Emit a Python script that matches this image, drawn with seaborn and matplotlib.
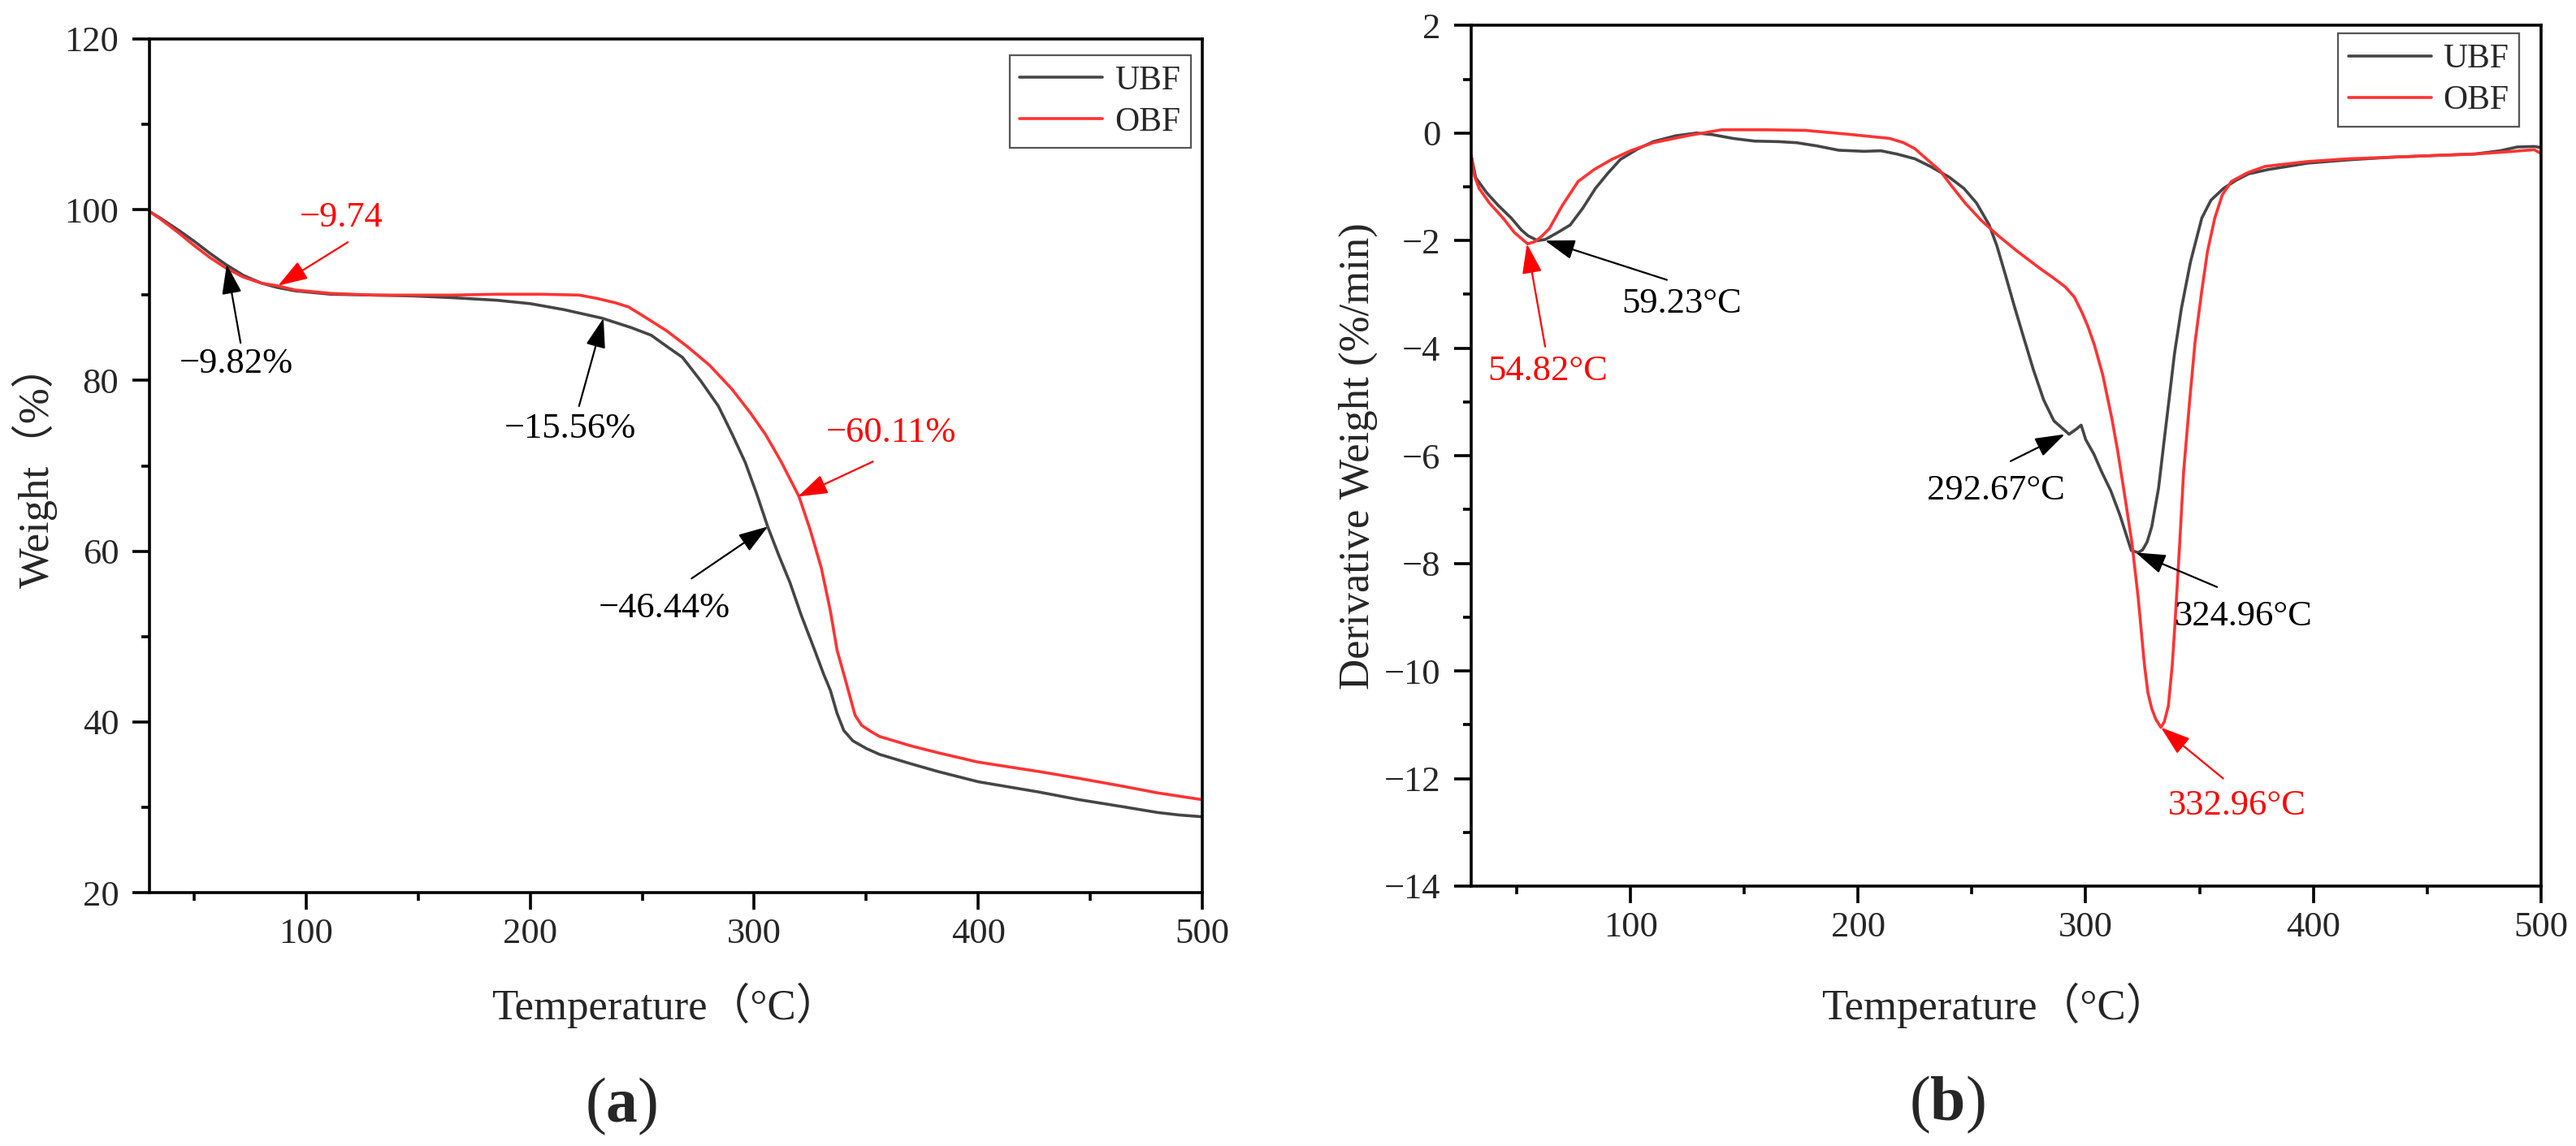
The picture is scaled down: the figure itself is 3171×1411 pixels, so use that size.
import matplotlib
matplotlib.use("Agg")
import matplotlib.pyplot as plt
from matplotlib.ticker import MultipleLocator
import pandas as pd
import seaborn as sns

# ---- TG curves (temperature in degC, weight in %) ----
tg_ubf_t = [30, 35, 43, 50, 57, 64, 72, 80, 87, 95, 111, 130, 148, 165, 185, 200,
            215, 232, 245, 254, 262, 268, 276, 284, 290, 296, 301, 306, 311, 316,
            321, 327, 331, 334, 337, 340, 344, 350, 356, 370, 382, 400, 427, 445,
            464, 480, 490, 500]
tg_ubf_w = [99.8, 99.0, 97.6, 96.3, 94.9, 93.6, 92.3, 91.4, 90.9, 90.5, 90.1, 90.0,
            89.9, 89.7, 89.4, 89.0, 88.3, 87.3, 86.2, 85.3, 83.8, 82.7, 80.0, 77.0,
            73.8, 70.4, 66.8, 62.9, 59.5, 56.3, 52.5, 48.4, 45.6, 43.7, 41.0, 39.0,
            37.8, 36.9, 36.2, 35.1, 34.2, 33.0, 31.8, 30.9, 30.1, 29.4, 29.1, 28.9]

tg_obf_t = [30, 35, 43, 50, 57, 64, 72, 80, 87, 95, 111, 130, 148, 165, 185, 205,
            222, 230, 238, 244, 252, 261, 270, 280, 290, 298, 305, 312, 320, 325,
            330, 334, 337, 340, 342, 345, 348, 352, 356, 370, 382, 400, 427, 445,
            464, 480, 490, 500]
tg_obf_w = [99.8, 98.9, 97.3, 95.8, 94.4, 93.2, 92.1, 91.4, 91.1, 90.6, 90.2, 90.0,
            90.0, 90.0, 90.1, 90.1, 90.0, 89.6, 89.1, 88.6, 87.3, 85.8, 84.0, 81.8,
            79.0, 76.3, 73.7, 70.5, 66.4, 62.5, 58.0, 53.0, 48.4, 45.6, 43.7, 40.8,
            39.6, 38.9, 38.3, 37.2, 36.4, 35.3, 34.2, 33.4, 32.5, 31.7, 31.3, 30.9]

# ---- DTG curves (temperature in degC, derivative weight in %/min) ----
dtg_ubf_t = [30, 32, 36.6, 42, 47.6, 52, 55, 59.2, 62.5, 68, 73.5, 79, 84.6, 90,
             95.6, 103, 110, 120, 129, 136, 145, 154.5, 165, 173, 182, 191.5, 202.6,
             210, 217, 225, 231.7, 240, 246.5, 252, 257.6, 261, 264.8, 268.5, 272.3,
             277, 281.5, 286, 292.7, 296, 298, 300, 303.6, 307, 311, 315, 320, 323,
             325, 327, 329, 332, 334.5, 336.6, 339, 342, 346, 351, 355, 360.5, 366,
             371.5, 380, 397.5, 415, 434, 452, 471, 482, 489.5, 497, 500]
dtg_ubf_d = [-0.42, -0.83, -1.1, -1.35, -1.58, -1.8, -1.91, -2.0, -1.98, -1.85,
             -1.71, -1.4, -1.03, -0.75, -0.49, -0.3, -0.16, -0.05, 0.0, -0.03, -0.1,
             -0.15, -0.16, -0.18, -0.24, -0.32, -0.34, -0.33, -0.39, -0.48, -0.62,
             -0.82, -1.03, -1.3, -1.71, -2.1, -2.65, -3.2, -3.74, -4.4, -4.96, -5.35,
             -5.6, -5.5, -5.43, -5.7, -5.97, -6.3, -6.65, -7.1, -7.76, -7.8, -7.75,
             -7.6, -7.32, -6.6, -5.7, -4.96, -4.1, -3.27, -2.4, -1.58, -1.25, -1.03,
             -0.88, -0.76, -0.68, -0.56, -0.5, -0.45, -0.42, -0.39, -0.33, -0.26,
             -0.25, -0.27]

dtg_obf_t = [30, 31.5, 33.5, 38, 44, 49, 54.8, 58, 61, 64.3, 70, 77, 84, 91.8, 100,
             110, 125, 140, 160, 176.6, 195, 213.8, 220, 224.9, 230, 236, 241, 247,
             254, 261.6, 270, 280, 286, 291, 295, 298.3, 301, 303.8, 307.5, 311.4,
             314, 316.8, 320.3, 323, 325.8, 327.3, 329, 330.8, 333, 334.5, 336.3,
             338, 339.2, 341.3, 343, 345.7, 348, 351, 353.5, 356.7, 360, 364, 371,
             378.8, 397.5, 415, 434, 452, 471, 485, 497, 500]
dtg_obf_d = [-0.42, -0.8, -1.03, -1.3, -1.58, -1.85, -2.06, -2.02, -1.92, -1.78,
             -1.35, -0.9, -0.68, -0.49, -0.33, -0.18, -0.05, 0.06, 0.06, 0.05, -0.02,
             -0.1, -0.18, -0.29, -0.48, -0.7, -0.98, -1.3, -1.62, -1.91, -2.2, -2.52,
             -2.7, -2.86, -3.05, -3.33, -3.6, -3.94, -4.5, -5.29, -5.9, -6.65, -7.62,
             -8.62, -9.89, -10.4, -10.7, -10.9, -11.05, -10.95, -10.65, -9.9, -9.13,
             -7.62, -6.3, -4.96, -3.9, -2.93, -2.2, -1.58, -1.15, -0.9, -0.74, -0.62,
             -0.53, -0.48, -0.45, -0.42, -0.39, -0.35, -0.31, -0.38]

samples = ["UBF", "OBF"]
colors = {"UBF": "#454545", "OBF": "#ff3333"}

# annotations: (text, text position, arrow tail, arrow tip, colour)
tg_notes = [
    ("\u22129.82%", (68.9, 81.9), (70.7, 84.4), (64.5, 93.6), "black"),
    ("\u22129.74", (115.7, 99.1), (118.6, 96.2), (87.4, 91.1), "red"),
    ("\u221215.56%", (217.8, 74.3), (221.8, 77.0), (232.7, 87.3), "black"),
    ("\u221260.11%", (361.0, 73.9), (353.0, 70.5), (319.5, 66.4), "red"),
    ("\u221246.44%", (260.0, 53.3), (272.0, 56.8), (306.2, 62.9), "black"),
]
dtg_notes = [
    ("59.23\u00b0C", (122.6, -3.17), (116.0, -2.73), (62.5, -2.0), "black"),
    ("54.82\u00b0C", (63.6, -4.42), (62.5, -3.97), (54.5, -2.06), "red"),
    ("292.67\u00b0C", (260.4, -6.64), (267.0, -6.1), (290.8, -5.6), "black"),
    ("324.96\u00b0C", (369.4, -8.98), (357.7, -8.44), (322.0, -7.8), "black"),
    ("332.96\u00b0C", (366.5, -12.5), (360.4, -12.0), (333.0, -11.05), "red"),
]


def long_df(t_ubf, v_ubf, t_obf, v_obf):
    a = pd.DataFrame({"T": t_ubf, "v": v_ubf, "sample": "UBF"})
    b = pd.DataFrame({"T": t_obf, "v": v_obf, "sample": "OBF"})
    return pd.concat([a, b], ignore_index=True)


def style_axes(ax, ylim, ymajor, yminor):
    ax.set_xlim(30, 500)
    ax.set_ylim(*ylim)
    ax.xaxis.set_major_locator(MultipleLocator(100))
    ax.xaxis.set_minor_locator(MultipleLocator(50))
    ax.yaxis.set_major_locator(MultipleLocator(ymajor))
    ax.yaxis.set_minor_locator(MultipleLocator(yminor))
    for s in ax.spines.values():
        s.set_visible(True)
        s.set_linewidth(1.3)
        s.set_color("black")
    ax.tick_params(which="both", direction="out", top=False, right=False,
                   width=1.3, color="black", labelsize=16)
    ax.tick_params(which="major", length=7.5)
    ax.tick_params(which="minor", length=3.6)
    ax.tick_params(axis="x", pad=3.5)
    ax.tick_params(axis="y", pad=6)
    ax.grid(False)


def add_notes(ax, notes):
    for txt, pos, tail, tip, c in notes:
        ax.annotate("", xy=tip, xytext=tail,
                    arrowprops=dict(arrowstyle="-|>,head_length=0.45,head_width=0.15",
                                    color=c, lw=0.8, mutation_scale=25,
                                    shrinkA=0, shrinkB=0))
        ax.text(pos[0], pos[1], txt, color=c, fontsize=16, ha="center", va="center")


def main() -> None:
    sns.set_theme(style="ticks")
    plt.rcParams["font.family"] = ["Liberation Serif", "Noto Sans CJK SC"]
    plt.rcParams["mathtext.fontset"] = "custom"
    plt.rcParams["mathtext.rm"] = "Liberation Serif"
    plt.rcParams["mathtext.bf"] = "Liberation Serif:bold"

    fig = plt.figure(figsize=(15.855, 7.055), dpi=200)
    ax1 = fig.add_axes([0.058, 0.221, 0.4087, 0.745])
    ax2 = fig.add_axes([0.5711, 0.2268, 0.4153, 0.751])

    tg = long_df(tg_ubf_t, tg_ubf_w, tg_obf_t, tg_obf_w)
    dtg = long_df(dtg_ubf_t, dtg_ubf_d, dtg_obf_t, dtg_obf_d)

    for ax, df in ((ax1, tg), (ax2, dtg)):
        sns.lineplot(data=df, x="T", y="v", hue="sample", hue_order=samples,
                     palette=colors, linewidth=1.3, ax=ax, estimator=None,
                     sort=False)

    style_axes(ax1, (20, 120), 20, 10)
    style_axes(ax2, (-14, 2), 2, 1)

    ax1.set_xlabel("Temperature\uff08\u00b0C\uff09", fontsize=19)
    ax1.set_ylabel("Weight\uff08%\uff09", fontsize=19)
    ax2.set_xlabel("Temperature\uff08\u00b0C\uff09", fontsize=19)
    ax2.set_ylabel("Derivative Weight (%/min)", fontsize=19)
    ax1.xaxis.set_label_coords(0.49, -0.105)
    ax2.xaxis.set_label_coords(0.49, -0.112)
    ax1.yaxis.set_label_coords(-0.087, 0.5)
    ax2.yaxis.set_label_coords(-0.087, 0.5)

    add_notes(ax1, tg_notes)
    add_notes(ax2, dtg_notes)

    for ax, anchor in ((ax1, (0.989, 0.981)), (ax2, (0.9795, 0.9906))):
        sns.move_legend(ax, "upper right", bbox_to_anchor=anchor, borderaxespad=0,
                        title=None, frameon=True, fancybox=False, framealpha=1,
                        edgecolor="#555555", fontsize=15, handlelength=2.45,
                        handletextpad=0.35, labelspacing=0.3, borderpad=0.3)
        ax.get_legend().get_frame().set_linewidth(0.8)

    fig.text(0.2412, 0.0347, r"($\mathbf{a}$)", fontsize=28, ha="center", va="center")
    fig.text(0.7559, 0.0361, r"($\mathbf{b}$)", fontsize=28, ha="center", va="center")

    fig.savefig("out.png", dpi=200, facecolor="white")


if __name__ == "__main__":
    main()
